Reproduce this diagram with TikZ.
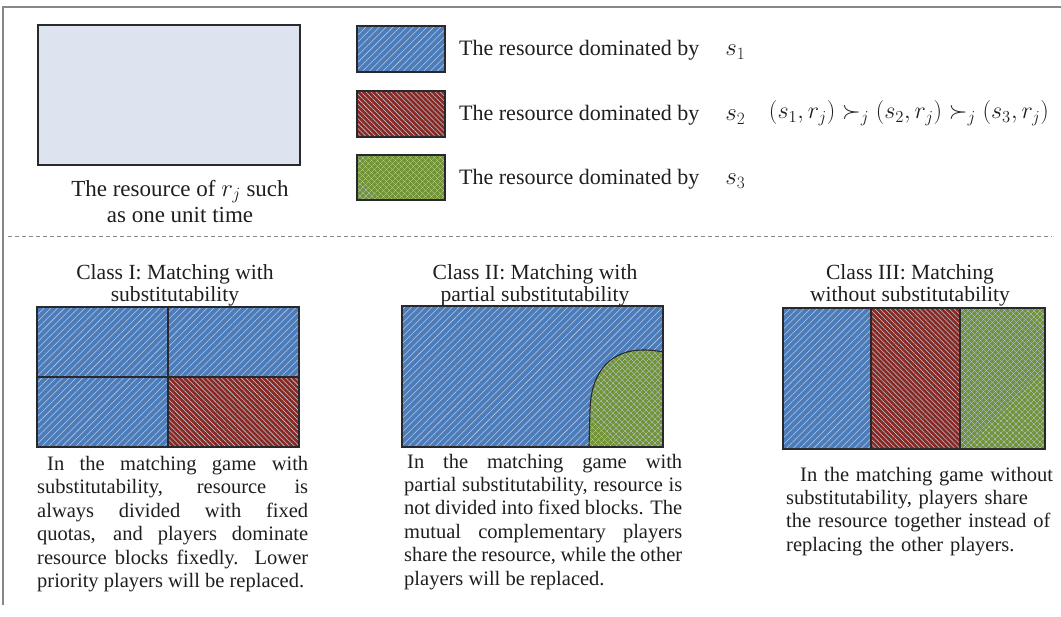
\documentclass[tikz,border=0pt]{standalone}
\usepackage{fontspec}
\setmainfont{Liberation Serif}
\usetikzlibrary{patterns.meta}
\definecolor{frameg}{RGB}{135,135,135}
\definecolor{boxfill}{RGB}{221,228,240}
\definecolor{edge}{RGB}{40,40,45}
\definecolor{sblue}{RGB}{76,124,185}
\definecolor{sred}{RGB}{136,42,34}
\definecolor{sgreen}{RGB}{116,148,58}
\definecolor{patc}{RGB}{185,202,228}
\definecolor{txtc}{RGB}{30,30,30}
\tikzset{
  x=1pt, y=-1pt,
  blueres/.style={fill=sblue, postaction={pattern={Lines[angle=45,distance=4.8pt,line width=0.55pt]}, pattern color=patc}},
  redres/.style={fill=sred, postaction={pattern={Lines[angle=-45,distance=3.5pt,line width=0.55pt]}, pattern color=patc}},
  greenres/.style={fill=sgreen, postaction={pattern={Lines[angle=45,distance=4pt,line width=0.45pt]}, pattern color=patc}, postaction={pattern={Lines[angle=-45,distance=4pt,line width=0.45pt]}, pattern color=patc}},
  boxedge/.style={draw=edge, line width=1.3pt},
  txt/.style={font=\fontsize{22}{24}\selectfont, inner sep=0pt, text=txtc},
  ttl/.style={font=\fontsize{21.6}{22}\selectfont, inner sep=0pt, text=txtc, align=center, anchor=north},
  body/.style={font=\fontsize{20.5}{23.4}\selectfont, inner sep=0pt, text=txtc, anchor=north west},
}
\begin{document}
\begin{tikzpicture}
\useasboundingbox (0,0) rectangle (1061,617);
% outer frame
\draw[frameg, line width=2pt] (3,605) -- (3,7) -- (1061,7);
% resource box
\path[fill=boxfill, boxedge] (38,25) rectangle (300,165);
\node[font=\fontsize{23}{26}\selectfont, inner sep=0pt, text=txtc, align=center, anchor=north] (cap) at (180,177.8) {\strut The resource of $r_j$ such\\as one unit time};
% legend
\path[blueres] (357,26) rectangle (445,72);
\draw[boxedge] (357,26) rectangle (445,72);
\path[redres] (357,91) rectangle (445,137);
\draw[boxedge] (357,91) rectangle (445,137);
\path[greenres] (357,155) rectangle (445,200);
\draw[boxedge] (357,155) rectangle (445,200);
\node[txt, anchor=base west] (l1) at (459,56) {The resource dominated by\hspace{26pt}{\fontsize{27}{27}\selectfont$s_1$}};
\node[txt, anchor=base west] (l2) at (459,121) {The resource dominated by\hspace{26pt}{\fontsize{27}{27}\selectfont$s_2$}};
\node[txt, anchor=base west] (l3) at (459,185) {The resource dominated by\hspace{26pt}{\fontsize{27}{27}\selectfont$s_3$}};
\node[txt] (pref) at (909,113) {\resizebox{280pt}{!}{$\biggl(s_1,r_j\biggr)\succ_j\biggl(s_2,r_j\biggr)\succ_j\biggl(s_3,r_j\biggr)$}};
% separator
\draw[frameg, line width=0.8pt, dash pattern=on 4pt off 3pt] (8,236) -- (1052,236);
% Class I
\node[ttl] (t1) at (175,263.6) {\strut Class I: Matching with\\substitutability};
\path[blueres] (37,307) rectangle (299,447);
\path[redres] (168,377) rectangle (299,447);
\draw[boxedge] (37,307) rectangle (299,447);
\draw[boxedge] (168,307) -- (168,447) (37,377) -- (299,377);
\node[body, text width=271pt, align=justify] (b1) at (37,454) {\hspace*{10pt}\strut In the matching game with\linebreak substitutability, resource is\linebreak always divided with fixed\linebreak quotas, and players dominate\linebreak resource blocks fixedly. Lower\linebreak priority players will be replaced.};
% Class II
\node[ttl] (t2) at (535,263.6) {\strut Class II: Matching with\\partial substitutability};
\path[blueres] (402,306) rectangle (663,447);
\path[greenres] (589,447) -- (590,410) .. controls (591,370) and (612,350) .. (643,350) .. controls (652,350) and (658,351) .. (663,352) -- (663,447) -- cycle;
\draw[edge, line width=1.1pt] (589,447) -- (590,410) .. controls (591,370) and (612,350) .. (643,350) .. controls (652,350) and (658,351) .. (663,352);
\draw[boxedge] (402,306) rectangle (663,447);
\node[body, text width=278pt, align=justify] (b2) at (404,451.6) {\hspace*{3pt}\strut In the matching game with\linebreak partial substitutability, resource is\linebreak not divided into fixed blocks. The\linebreak mutual complementary players\linebreak share the resource, while the other\linebreak players will be replaced.};
% Class III
\node[ttl] (t3) at (910,263.6) {\strut Class III: Matching\\without substitutability};
\path[blueres] (783,308) rectangle (871,449);
\path[redres] (871,308) rectangle (960,449);
\path[greenres] (960,308) rectangle (1045,449);
\draw[boxedge] (783,308) rectangle (1045,449);
\draw[boxedge] (871,308) -- (871,449) (960,308) -- (960,449);
\node[body, text width=270pt, align=left] (b3) at (786,464.6) {\hspace*{14pt}\strut In the matching game without\\substitutability, players share\\the resource together instead of\\replacing the other players.};
\end{tikzpicture}
\end{document}
